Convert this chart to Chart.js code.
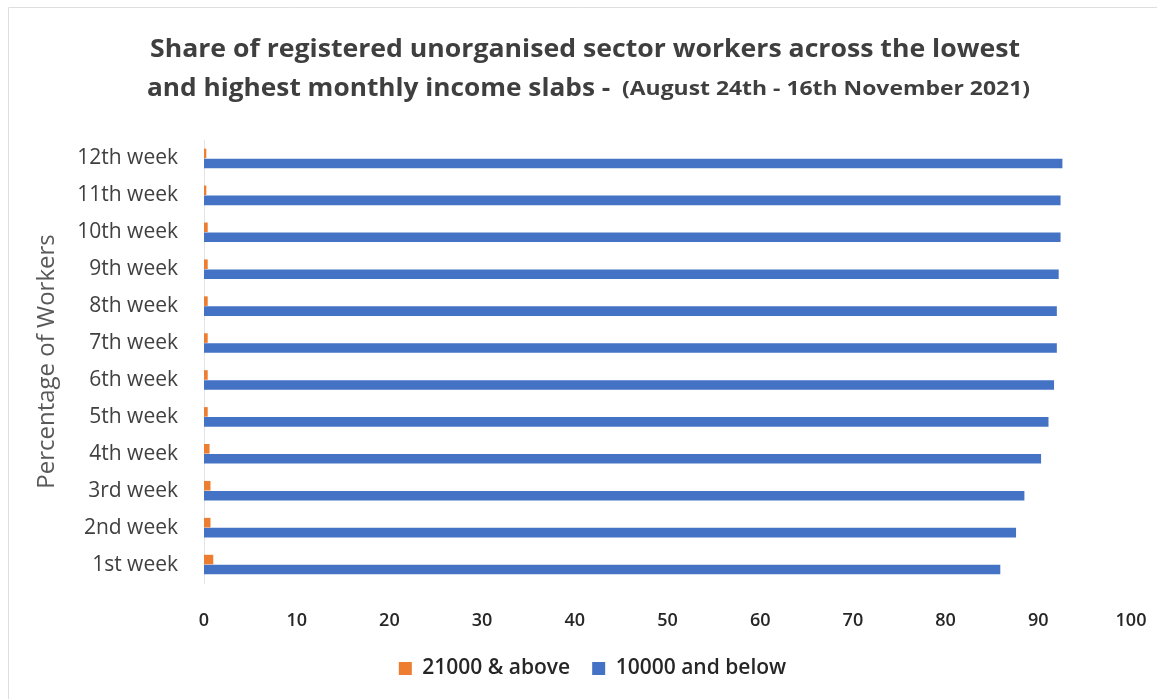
<!DOCTYPE html>
<html>
<head>
<meta charset="utf-8">
<script src="https://cdn.jsdelivr.net/npm/chart.js@4.4.0/dist/chart.umd.min.js"></script>
<style>
html,body{margin:0;padding:0;background:#fff;}
#wrap{position:relative;width:1157px;height:699px;}
</style>
</head>
<body>
<div id="wrap"><canvas id="c" width="1157" height="699"></canvas></div>
<script>
const categories = ["12th week","11th week","10th week","9th week","8th week","7th week","6th week","5th week","4th week","3rd week","2nd week","1st week"];
const above21000 = [0.25, 0.25, 0.4, 0.4, 0.4, 0.4, 0.4, 0.4, 0.6, 0.7, 0.7, 1.0];
const below10000 = [92.6, 92.4, 92.4, 92.2, 92.0, 92.0, 91.7, 91.1, 90.3, 88.5, 87.6, 85.9];
const xTicks = [0,10,20,30,40,50,60,70,80,90,100];
const seriesNames = ["21000 & above", "10000 and below"];
const titleLine1 = "Share of registered unorganised sector workers across the lowest";
const titleLine2a = "and highest monthly income slabs - ";
const titleLine2b = "(August 24th - 16th November 2021)";
const yAxisTitle = "Percentage of Workers";

const FAM = "'Open Sans', 'Liberation Sans', sans-serif";

const framePlugin = {
  id: 'frame',
  beforeDraw(chart) {
    const ctx = chart.ctx;
    ctx.save();
    ctx.strokeStyle = '#dedede';
    ctx.lineWidth = 1;
    ctx.beginPath();
    ctx.moveTo(8.5, 699); ctx.lineTo(8.5, 7.5); ctx.lineTo(1157, 7.5);
    ctx.stroke();
    ctx.restore();
  }
};

const legendShift = {
  id: 'legendShift',
  afterLayout(chart) {
    const lg = chart.legend;
    if (lg) { lg.left += 27; lg.right += 27; }
  }
};

const titlePlugin = {
  id: 'customTitle',
  afterDraw(chart) {
    const ctx = chart.ctx;
    ctx.save();
    ctx.fillStyle = '#3f3f3f';
    ctx.textBaseline = 'middle';
    ctx.textAlign = 'left';
    ctx.font = "bold 25px " + FAM;
    let w = ctx.measureText(titleLine1).width;
    let sx = 870 / w;
    ctx.save();
    ctx.translate(150, 50);
    ctx.scale(sx, 1);
    ctx.fillText(titleLine1, 0, 0);
    ctx.restore();
    w = ctx.measureText(titleLine2a).width;
    sx = 470 / w;
    ctx.save();
    ctx.translate(147, 89);
    ctx.scale(sx, 1);
    ctx.fillText(titleLine2a, 0, 0);
    ctx.restore();
    ctx.font = "bold 19px " + FAM;
    w = ctx.measureText(titleLine2b).width;
    sx = 408 / w;
    ctx.save();
    ctx.translate(622, 90);
    ctx.scale(sx, 1);
    ctx.fillText(titleLine2b, 0, 0);
    ctx.restore();
    ctx.restore();
  }
};

new Chart(document.getElementById('c'), {
  type: 'bar',
  data: {
    labels: categories,
    datasets: [
      { label: seriesNames[0], data: above21000, backgroundColor: '#ED7D31', borderWidth: 0 },
      { label: seriesNames[1], data: below10000, backgroundColor: '#4472C4', borderWidth: 0 }
    ]
  },
  options: {
    indexAxis: 'y',
    responsive: false,
    animation: false,
    devicePixelRatio: 1,
    layout: { padding: { top: 140, right: 26, left: 0, bottom: 10 } },
    datasets: { bar: { categoryPercentage: 0.54, barPercentage: 0.96 } },
    scales: {
      x: {
        min: 0, max: 100,
        afterBuildTicks(scale) { scale.ticks = xTicks.map(v => ({ value: v })); },
        afterFit(scale) { scale.height = 53; scale.paddingRight = 0; scale.paddingLeft = 0; },
        grid: { display: false, drawTicks: false },
        border: { display: false },
        ticks: { padding: 27, color: '#262626', font: { family: FAM, size: 18, weight: '600' } }
      },
      y: {
        afterFit(scale) { scale.width = 204; },
        grid: { display: false, drawTicks: false },
        border: { display: true, color: '#e3e3e3', width: 1 },
        ticks: { padding: 26, color: '#404040', font: { family: FAM, size: 21 } },
        title: {
          display: true, text: yAxisTitle, color: '#595959',
          font: { family: FAM, size: 24 }, padding: { top: 33, bottom: 0 }
        }
      }
    },
    plugins: {
      title: { display: false },
      tooltip: { enabled: false },
      legend: {
        position: 'bottom',
        labels: {
          color: '#262626', font: { family: FAM, size: 21, weight: '600' },
          boxWidth: 13, boxHeight: 13, padding: 22
        }
      }
    }
  },
  plugins: [framePlugin, legendShift, titlePlugin]
});
</script>
</body>
</html>
